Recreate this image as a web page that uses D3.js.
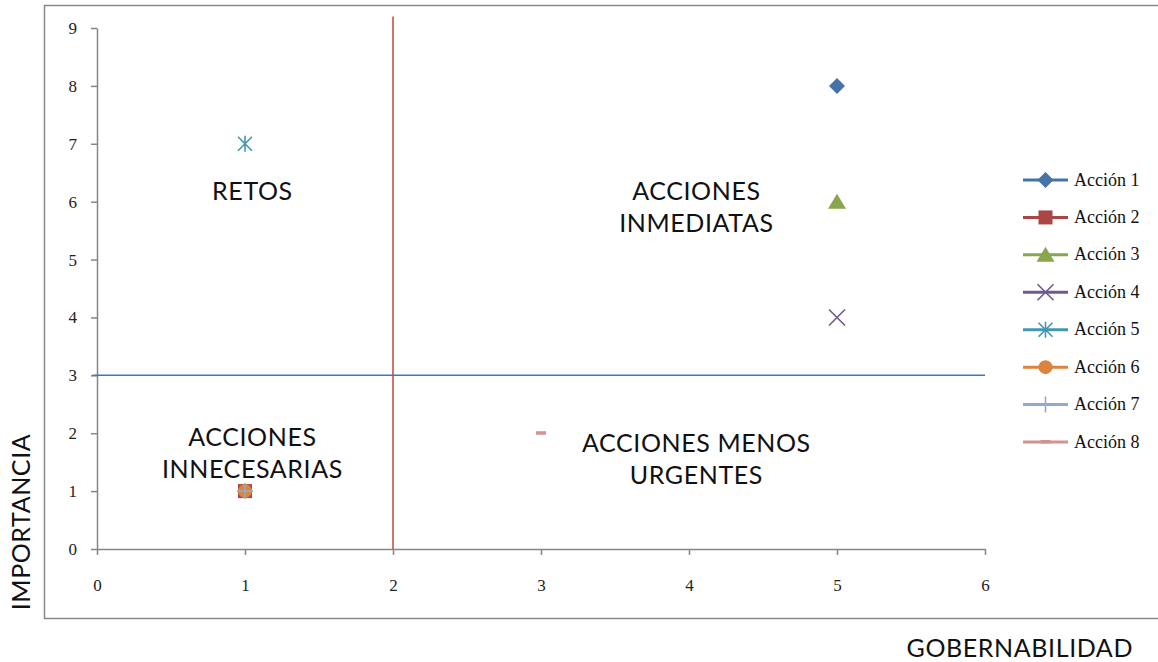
<!DOCTYPE html>
<html><head><meta charset="utf-8">
<script src="https://cdn.jsdelivr.net/npm/d3@7"></script>
<style>body{margin:0;background:#fff;} svg{display:block;}</style>
</head><body>
<script>
const seriesNames = ["Acción 1","Acción 2","Acción 3","Acción 4","Acción 5","Acción 6","Acción 7","Acción 8"];
const xValues = [5,1,5,5,1,1,1,3];
const yValues = [8,1,6,4,7,1,1,2];
const markerTypes = ["diamond","square","triangle","x","asterisk","circle","plus","dash"];
const seriesColors = ["#4572A7","#AA4643","#89A54E","#71588F","#4198AF","#DB843D","#93A9CF","#D19392"];
const xTicks = [0,1,2,3,4,5,6];
const yTicks = [0,1,2,3,4,5,6,7,8,9];
const quadrantLabels = [["RETOS"],["ACCIONES","INMEDIATAS"],["ACCIONES","INNECESARIAS"],["ACCIONES MENOS","URGENTES"]];
const quadrantPos = [[1.05,6.03],[4.05,6.03],[1.05,1.78],[4.05,1.68]];
const verticalLineX = 2, horizontalLineY = 3;

const W=1158,H=662;
const svg=d3.select("body").append("svg").attr("width",W).attr("height",H);
svg.append("rect").attr("x",44.5).attr("y",5.5).attr("width",1120).attr("height",613).attr("fill","#fff").attr("stroke","#898989").attr("stroke-width",1.5);

const x=d3.scaleLinear().domain([0,6]).range([97,985]);
const y=d3.scaleLinear().domain([0,9]).range([549,28]);
const serif="'Liberation Serif','DejaVu Serif',serif";
const sans="'Lato','Open Sans',sans-serif";

const gx=svg.append("g").attr("transform","translate(0,549)").call(d3.axisBottom(x).tickValues(xTicks).tickFormat(d3.format("d")).tickSize(6).tickSizeOuter(0).tickPadding(24));
const gy=svg.append("g").attr("transform","translate(97,0)").call(d3.axisLeft(y).tickValues(yTicks).tickFormat(d3.format("d")).tickSize(6).tickSizeOuter(0).tickPadding(14));
[gx,gy].forEach(g=>{g.selectAll("path,line").attr("stroke","#868686").attr("stroke-width",1.5);
 g.selectAll("text").attr("font-family",serif).attr("font-size",17).attr("fill","#222");});

// quadrant lines
svg.append("line").attr("x1",x(verticalLineX)).attr("x2",x(verticalLineX)).attr("y1",y(9.2)).attr("y2",y(0)).attr("stroke","#C0392B").attr("stroke-width",1.4);
svg.append("line").attr("x1",x(-0.03)).attr("x2",x(6)).attr("y1",y(horizontalLineY)).attr("y2",y(horizontalLineY)).attr("stroke","#3F77BC").attr("stroke-width",1.5);

// quadrant labels
quadrantLabels.forEach((lines,i)=>{
  const t=svg.append("text").attr("x",x(quadrantPos[i][0])).attr("y",y(quadrantPos[i][1])).attr("text-anchor","middle").attr("font-family",sans).attr("font-size",25).attr("letter-spacing",0.6).attr("fill","#111");
  lines.forEach((l,j)=>t.append("tspan").attr("x",x(quadrantPos[i][0])).attr("dy",j?32:0).text(l));
});

function drawMarker(g,type,cx,cy,color){
  const s=g.append("g").attr("transform",`translate(${cx},${cy})`);
  if(type==="diamond") s.append("path").attr("d","M0,-8L8,0L0,8L-8,0Z").attr("fill",color);
  else if(type==="square") s.append("rect").attr("x",-7).attr("y",-7).attr("width",14).attr("height",14).attr("fill",color);
  else if(type==="triangle") s.append("path").attr("d","M0,-8L9,7L-9,7Z").attr("fill",color);
  else if(type==="x") s.append("path").attr("d","M-8,-8L8,8M-8,8L8,-8").attr("stroke",color).attr("stroke-width",1.6);
  else if(type==="asterisk") s.append("path").attr("d","M-7,-7L7,7M-7,7L7,-7M0,-8L0,8").attr("stroke",color).attr("stroke-width",1.6);
  else if(type==="circle") s.append("circle").attr("r",7).attr("fill",color);
  else if(type==="plus") s.append("path").attr("d","M-8,0L8,0M0,-8L0,8").attr("stroke",color).attr("stroke-width",1.6);
  else if(type==="dash") s.append("rect").attr("x",-5).attr("y",-2).attr("width",10).attr("height",3.5).attr("fill",color);
}
seriesNames.forEach((n,i)=>drawMarker(svg,markerTypes[i],x(xValues[i]),y(yValues[i]),seriesColors[i]));

// legend
const ly=d3.scaleLinear().domain([0,7]).range([180,442]);
seriesNames.forEach((n,i)=>{
  const g=svg.append("g");
  g.append("line").attr("x1",1023).attr("x2",1068).attr("y1",ly(i)).attr("y2",ly(i)).attr("stroke",seriesColors[i]).attr("stroke-width",3);
  drawMarker(g,markerTypes[i],1045.5,ly(i),seriesColors[i]);
  g.append("text").attr("x",1074).attr("y",ly(i)+5.5).attr("font-family",serif).attr("font-size",18).attr("fill","#111").text(n);
});

// axis titles
svg.append("text").attr("x",1133).attr("y",657).attr("text-anchor","end").attr("font-family",sans).attr("font-size",25).attr("letter-spacing",0.6).attr("fill","#111").text("GOBERNABILIDAD");
svg.append("text").attr("transform","translate(30,522) rotate(-90)").attr("text-anchor","middle").attr("font-family",sans).attr("font-size",25).attr("letter-spacing",0.6).attr("fill","#111").text("IMPORTANCIA");
</script>
</body></html>
